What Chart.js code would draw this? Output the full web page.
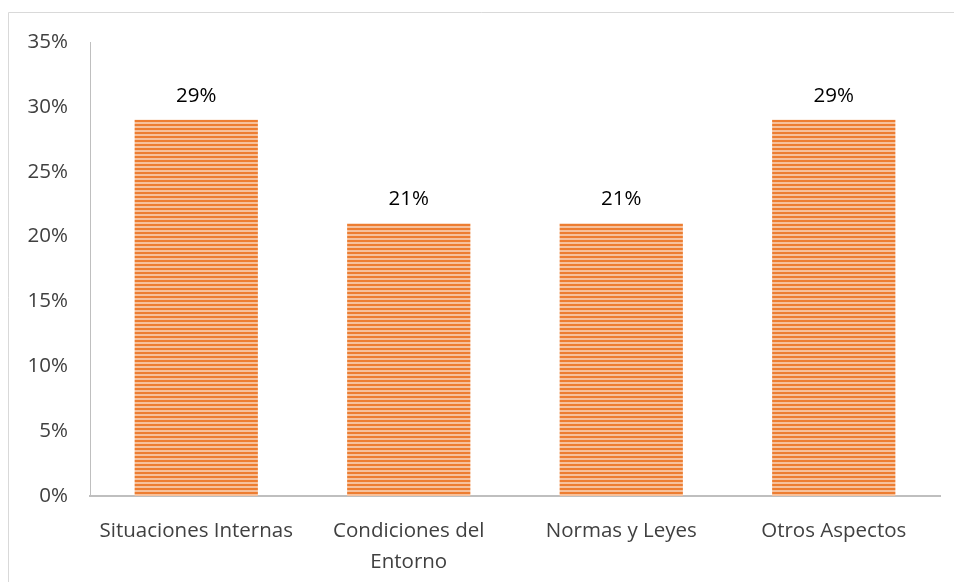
<!DOCTYPE html>
<html>
<head>
<meta charset="utf-8">
<script src="https://cdn.jsdelivr.net/npm/chart.js@4"></script>
<style>
  body { margin: 0; background: #fff; }
  canvas { display: block; }
</style>
</head>
<body>
<canvas id="chart" width="954" height="582"></canvas>
<script>
const categories = ['Situaciones Internas', ['Condiciones del', 'Entorno'], 'Normas y Leyes', 'Otros Aspectos'];
const values = [0.29, 0.21, 0.21, 0.29];
const tickLabels = ['0%', '5%', '10%', '15%', '20%', '25%', '30%', '35%'];

// striped orange fill like the original
function stripePattern() {
    const c = document.createElement('canvas');
    c.width = 4;
    c.height = 4;
    const g = c.getContext('2d');
    g.fillStyle = '#ED7D31';
    g.fillRect(0, 0, 4, 4);
    g.fillStyle = '#F6C19C';
    g.fillRect(0, 2, 4, 2);
    return g.createPattern(c, 'repeat');
}

const frame = {
    id: 'frame',
    beforeDraw(chart) {
        const ctx = chart.ctx;
        ctx.save();
        ctx.strokeStyle = '#d9d9d9';
        ctx.lineWidth = 1;
        ctx.beginPath();
        ctx.moveTo(8.5, chart.height);
        ctx.lineTo(8.5, 12.5);
        ctx.lineTo(chart.width, 12.5);
        ctx.stroke();
        ctx.restore();
    }
};

const valueLabels = {
    id: 'valueLabels',
    afterDatasetsDraw(chart) {
        const ctx = chart.ctx;
        const meta = chart.getDatasetMeta(0);
        ctx.save();
        ctx.font = '20.5px "Open Sans"';
        ctx.fillStyle = '#000';
        ctx.textAlign = 'center';
        ctx.textBaseline = 'middle';
        meta.data.forEach((bar, i) => {
            ctx.fillText(Math.round(values[i] * 100) + '%', bar.x, bar.y - 24);
        });
        ctx.restore();
    }
};

const ctx = document.getElementById('chart').getContext('2d');
new Chart(ctx, {
    type: 'bar',
    data: {
        labels: categories,
        datasets: [{
            data: values,
            backgroundColor: stripePattern(),
            borderWidth: 0,
            categoryPercentage: 1,
            barPercentage: 0.58
        }]
    },
    options: {
        responsive: false,
        animation: false,
        layout: { padding: { top: 42, right: 14, left: 0, bottom: 0 } },
        plugins: {
            legend: { display: false },
            tooltip: { enabled: false }
        },
        scales: {
            x: {
                grid: { display: false, drawTicks: false },
                border: { display: true, color: '#bfbfbf', width: 2 },
                ticks: {
                    color: '#404040',
                    padding: 20,
                    maxRotation: 0,
                    autoSkip: false,
                    font: { family: 'Open Sans', size: 20.5, lineHeight: 1.5 }
                },
                afterFit(scale) { scale.height = 86; }
            },
            y: {
                min: 0,
                max: 0.35,
                grid: { display: false, drawTicks: false },
                border: { display: true, color: '#bfbfbf', width: 1 },
                ticks: {
                    stepSize: 0.05,
                    color: '#404040',
                    padding: 22,
                    font: { family: 'Open Sans', size: 20.5 },
                    callback: (v, i) => tickLabels[i]
                },
                afterFit(scale) { scale.width = 90; }
            }
        }
    },
    plugins: [frame, valueLabels]
});
</script>
</body>
</html>
